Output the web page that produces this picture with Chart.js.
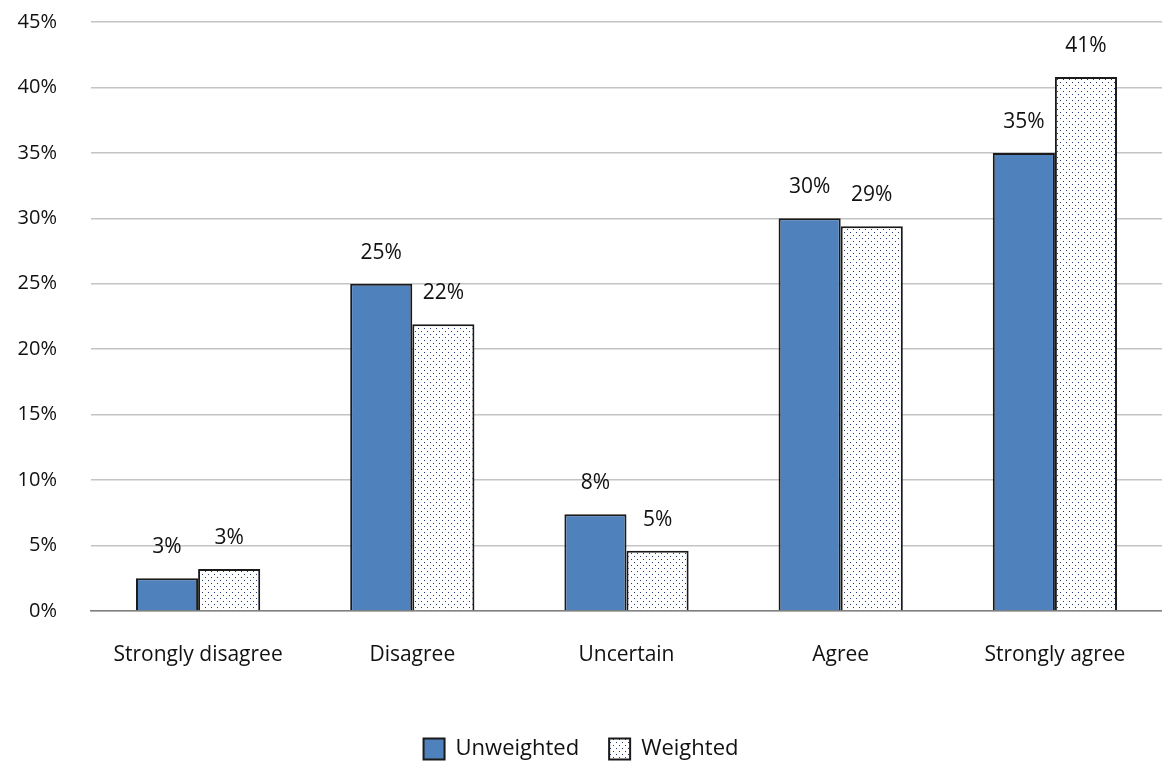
<!DOCTYPE html>
<html>
<head>
<meta charset="utf-8">
<script src="https://cdn.jsdelivr.net/npm/chart.js@4/dist/chart.umd.min.js"></script>
<style>
  html, body { margin: 0; padding: 0; background: #fff; }
  #wrap { width: 1162px; height: 764px; }
</style>
</head>
<body>
<div id="wrap"><canvas id="chart"></canvas></div>
<script>
// chart data
const categories = ['Strongly disagree', 'Disagree', 'Uncertain', 'Agree', 'Strongly agree'];
const unweighted = [2.5, 25, 7.4, 30, 35];
const weighted = [3.2, 21.9, 4.6, 29.4, 40.8];
const unweightedLabels = ['3%', '25%', '8%', '30%', '35%'];
const weightedLabels = ['3%', '22%', '5%', '29%', '41%'];
const yTicks = [0, 5, 10, 15, 20, 25, 30, 35, 40, 45];

const FONT = '"Open Sans", Lato, sans-serif';

// dotted fill for the weighted series
function dotPattern() {
	let c = document.createElement('canvas');
	c.width = 6;
	c.height = 6;
	let x = c.getContext('2d');
	x.fillStyle = '#ffffff';
	x.fillRect(0, 0, 6, 6);
	x.fillStyle = '#1e3a78';
	x.fillRect(1, 1, 1, 1);
	x.fillRect(4, 4, 1, 1);
	return x.createPattern(c, 'repeat');
}

// value labels above the bars
const barLabels = {
	id: 'barLabels',
	afterDatasetsDraw(chart) {
		let ctx = chart.ctx;
		ctx.save();
		ctx.font = '21px ' + FONT;
		ctx.fillStyle = '#111';
		ctx.textAlign = 'center';
		ctx.textBaseline = 'middle';
		chart.data.datasets.forEach(function (ds, i) {
			chart.getDatasetMeta(i).data.forEach(function (bar, j) {
				ctx.fillText(ds.valueLabels[j], bar.x, bar.y - 31);
			});
		});
		ctx.restore();
	}
};

let ctx = document.getElementById('chart').getContext('2d');
new Chart(ctx, {
	type: 'bar',
	data: {
		labels: categories,
		datasets: [{
			label: 'Unweighted',
			data: unweighted,
			valueLabels: unweightedLabels,
			backgroundColor: '#4f81bd',
			borderColor: '#1a1a1a',
			borderWidth: 2,
			borderSkipped: 'bottom'
		}, {
			label: 'Weighted',
			data: weighted,
			valueLabels: weightedLabels,
			backgroundColor: dotPattern(),
			borderColor: '#1a1a1a',
			borderWidth: 2,
			borderSkipped: 'bottom'
		}]
	},
	options: {
		responsive: true,
		maintainAspectRatio: false,
		animation: false,
		layout: { padding: { left: 0, right: 0, top: 22, bottom: -6 } },
		datasets: { bar: { categoryPercentage: 0.58, barPercentage: 1.0 } },
		plugins: {
			legend: {
				position: 'bottom',
				labels: {
					font: { family: FONT, size: 22 },
					color: '#111',
					boxWidth: 21,
					boxHeight: 21,
					padding: 30
				}
			},
			tooltip: { enabled: false }
		},
		scales: {
			x: {
				grid: { display: false },
				border: { color: '#7f7f7f', width: 1.5 },
				ticks: {
					font: { family: FONT, size: 21 },
					color: '#111',
					padding: 23
				},
				afterFit(scale) { scale.height = 97; }
			},
			y: {
				min: 0,
				max: 45,
				afterBuildTicks(scale) { scale.ticks = yTicks.map(v => ({ value: v })); },
				grid: { color: '#c4c4c4', lineWidth: 1.5, drawTicks: false },
				border: { display: false },
				ticks: {
					font: { family: FONT, size: 20 },
					color: '#111',
					padding: 34,
					callback: v => v + '%'
				},
				afterFit(scale) {
					scale.width = 91;
					scale.paddingTop = 0;
					scale.paddingBottom = 0;
				}
			}
		}
	},
	plugins: [barLabels]
});
</script>
</body>
</html>
